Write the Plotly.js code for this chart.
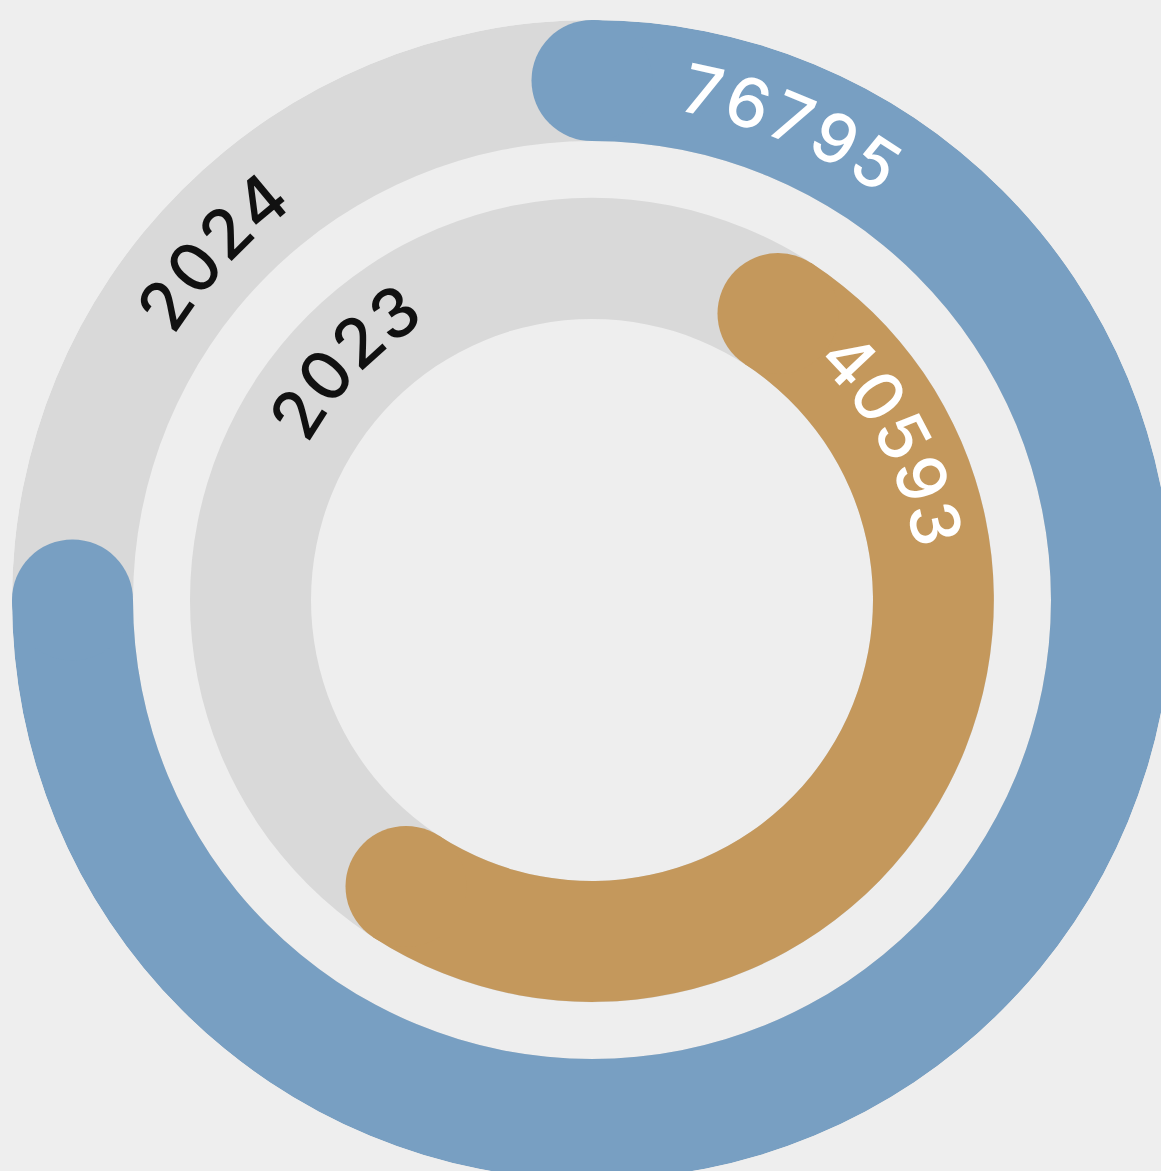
<!DOCTYPE html>
<html><head><meta charset="utf-8">
<script src="https://cdn.plot.ly/plotly-3.0.1.min.js"></script>
<style>
html,body{margin:0;padding:0;background:#eeeeee;overflow:hidden;width:1161px;height:1171px;}
#chart{position:absolute;left:12px;top:20px;width:1160px;height:1160px;}
</style></head><body><div id="chart"></div>
<script>
// ---- data ----
const years = ['2024', '2023'];
const values = [76795, 40593];
const ringMax = [102393, 81186];   // value that would close each ring (360 deg)

// ---- layout / style config ----
const SIZE = 1160;                 // plot size in px (radius 580)
const ringInner = [459, 281];
const ringWidth = [121, 121];
const ringStart = [0, 33];         // degrees clockwise from 12 o'clock
const colors = ['#789fc2', '#c4985c'];
const trackColor = '#d9d9d9';
const valueLabelAngle = [22.6, 62.2];
const valueLabelRadius = [522, 352];
const yearLabelAngle = [312.5, 314];
const yearLabelRadius = [519, 349];
const FONT = 'Inter, "DejaVu Sans", sans-serif';
const FONT_SIZE = 68;
const CHAR_STEP = 47;

const traces = [];
years.forEach((y, i) => {
  const span = values[i] / ringMax[i] * 360;
  const mid = ringInner[i] + ringWidth[i] / 2;
  traces.push({
    type: 'barpolar', r: [ringWidth[i]], base: [ringInner[i]], theta: [180], width: [360],
    marker: {color: trackColor, line: {width: 0}}, hoverinfo: 'skip', showlegend: false
  });
  traces.push({
    type: 'barpolar', r: [ringWidth[i]], base: [ringInner[i]],
    theta: [ringStart[i] + span / 2], width: [span], name: y,
    marker: {color: colors[i], line: {width: 0}}, showlegend: false
  });
  traces.push({
    type: 'scatterpolar', mode: 'markers', r: [mid, mid],
    theta: [ringStart[i], ringStart[i] + span],
    marker: {size: ringWidth[i], color: colors[i], line: {width: 0}},
    hoverinfo: 'skip', showlegend: false, cliponaxis: false
  });
});

function norm(a) { a = ((a % 360) + 360) % 360; return a > 180 ? a - 360 : a; }
function arcLabel(text, r, centerDeg, color) {
  const step = CHAR_STEP / r * 180 / Math.PI;
  const n = text.length;
  return text.split('').map((ch, k) => {
    const a = centerDeg + (k - (n - 1) / 2) * step;
    const rad = a * Math.PI / 180;
    return {
      xref: 'paper', yref: 'paper',
      x: 0.5 + r * Math.sin(rad) / SIZE, y: 0.5 + r * Math.cos(rad) / SIZE,
      text: ch, showarrow: false, textangle: norm(a),
      xanchor: 'center', yanchor: 'middle',
      font: {family: FONT, size: FONT_SIZE, color: color, weight: 500}
    };
  });
}

let annotations = [];
years.forEach((y, i) => {
  annotations = annotations.concat(arcLabel(String(values[i]), valueLabelRadius[i], valueLabelAngle[i], '#ffffff'));
  annotations = annotations.concat(arcLabel(y, yearLabelRadius[i], yearLabelAngle[i], '#111111'));
});

const layout = {
  width: SIZE, height: SIZE,
  margin: {l: 0, r: 0, t: 0, b: 0},
  paper_bgcolor: '#eeeeee', plot_bgcolor: '#eeeeee',
  showlegend: false,
  polar: {
    domain: {x: [0, 1], y: [0, 1]},
    bgcolor: 'rgba(0,0,0,0)',
    barmode: 'overlay', bargap: 0,
    radialaxis: {range: [0, SIZE / 2], visible: false, showgrid: false, showline: false, ticks: ''},
    angularaxis: {visible: false, rotation: 90, direction: 'clockwise', showgrid: false, showline: false, ticks: ''}
  },
  annotations: annotations
};

Plotly.newPlot('chart', traces, layout, {displayModeBar: false, staticPlot: true});
</script></body></html>
